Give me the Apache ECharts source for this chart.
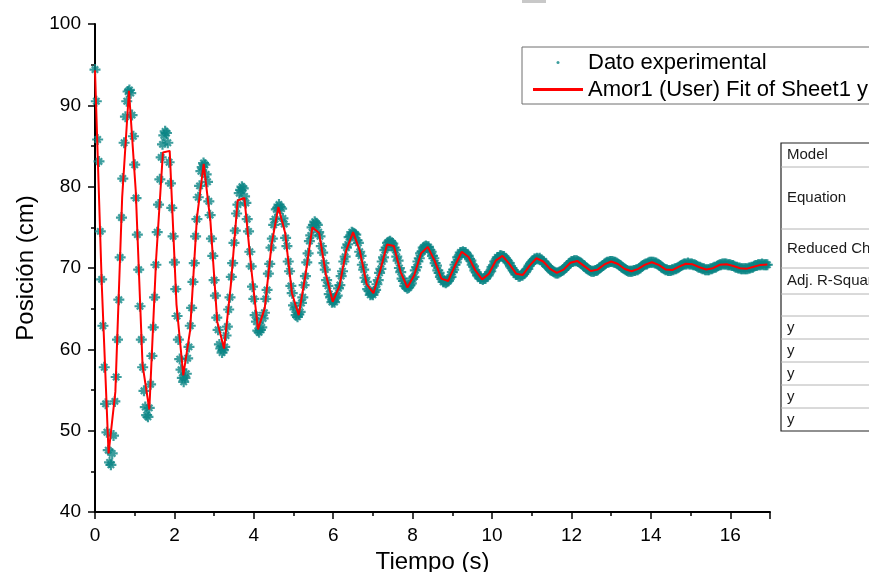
<!DOCTYPE html>
<html><head><meta charset="utf-8">
<script src="https://cdn.jsdelivr.net/npm/echarts@6/dist/echarts.min.js"></script>
<style>html,body{margin:0;padding:0;background:#fff;overflow:hidden}#c{width:869px;height:572px}</style>
</head><body><div id="c"></div>
<script>
// ---- data ----
const seriesNames = ['Dato experimental', 'Amor1 (User) Fit of Sheet1 y'];
const xTitle = 'Tiempo (s)';
const yTitle = 'Posición (cm)';
const xRange = [0, 17];
const yRange = [40, 100];
const xTickStep = 2;
const yTickStep = 10;
const sampleStep = 1 / 30;          // experimental sampling interval (s)
const expPos = [
94.4,90.5,85.8,83.1,74.5,68.6,62.9,57.8,53.3,49.8,47.6,46.1,45.8,
47.2,49.4,53.6,56.6,61.2,66.1,71.3,76.2,81.0,85.4,88.6,90.5,91.7,91.9,
91.5,88.8,86.2,82.7,78.6,74.1,69.8,65.3,61.2,57.8,54.9,52.9,51.9,51.7,
52.8,55.7,59.2,62.7,66.4,70.4,74.4,77.8,80.9,83.6,85.2,86.3,86.8,
86.6,85.4,83.0,80.4,77.4,73.9,70.7,67.4,64.1,61.2,58.8,57.5,56.5,56.0,
56.5,57.0,58.9,60.3,62.9,65.1,68.3,70.6,73.9,76.0,78.7,80.1,81.9,82.4,82.9,
82.7,81.5,80.6,78.2,76.5,73.6,71.5,68.5,66.6,63.9,62.4,60.6,60.1,59.6,
59.9,60.3,61.7,62.8,64.9,66.4,68.9,70.6,73.1,74.6,76.7,77.8,79.2,79.6,80.0,
79.8,78.8,78.0,76.0,74.5,72.0,70.2,67.7,66.2,64.2,63.4,62.3,62.1,
62.4,62.7,63.8,64.5,66.2,67.3,69.3,70.5,72.5,73.6,75.3,76.0,77.2,77.4,77.8,
77.5,77.3,76.1,75.4,73.7,72.7,70.8,69.6,67.8,66.9,65.4,64.9,64.2,64.0,
64.3,64.6,65.7,66.4,67.9,69.0,70.7,71.8,73.3,74.0,75.0,75.3,75.7,
75.5,75.3,74.4,73.9,72.7,71.9,70.6,69.8,68.5,67.8,66.8,66.4,65.8,65.9,
65.8,66.4,66.6,67.5,67.9,69.0,69.6,70.8,71.4,72.5,72.9,73.8,73.9,74.4,74.3,
74.2,74.1,73.4,73.1,72.0,71.5,70.4,69.8,68.8,68.3,67.4,67.2,66.7,66.8,
66.7,67.1,67.3,68.0,68.5,69.4,69.9,70.8,71.3,72.2,72.5,73.1,73.2,73.3,
73.1,73.0,72.5,72.2,71.4,70.9,70.0,69.5,68.7,68.4,67.8,67.7,67.5,
67.6,67.9,68.1,68.7,68.9,69.7,70.1,70.8,71.2,71.8,72.0,72.5,72.6,72.7,
72.6,72.6,72.2,72.0,71.5,71.2,70.6,70.3,69.7,69.4,68.9,68.7,68.3,68.3,68.2,
68.3,68.4,68.8,68.9,69.5,69.8,70.4,70.7,71.3,71.4,71.9,71.9,72.0,
71.9,71.9,71.6,71.5,71.1,70.9,70.4,70.2,69.7,69.5,69.1,69.0,68.7,68.7,68.6,
68.7,68.7,69.0,69.1,69.5,69.6,70.1,70.3,70.8,70.9,71.3,71.3,71.5,71.5,
71.4,71.4,71.2,71.0,70.7,70.6,70.2,70.0,69.7,69.5,69.2,69.2,69.0,69.0,
69.1,69.1,69.3,69.5,69.8,69.9,70.3,70.5,70.7,70.9,71.1,71.1,71.2,
71.1,71.2,71.0,70.8,70.8,70.5,70.4,70.2,70.0,69.8,69.7,69.6,69.5,69.4,69.4,
69.4,69.5,69.6,69.7,69.8,70.0,70.1,70.3,70.5,70.6,70.8,70.8,70.9,70.9,
70.9,70.8,70.7,70.6,70.5,70.3,70.2,70.0,69.9,69.8,69.7,69.6,69.6,
69.6,69.7,69.7,69.8,70.0,70.1,70.2,70.3,70.5,70.6,70.7,70.7,70.8,70.8,
70.8,70.7,70.7,70.6,70.5,70.4,70.3,70.1,70.0,69.9,69.8,69.7,69.6,69.6,69.6,
69.6,69.7,69.7,69.8,69.8,69.9,70.0,70.2,70.3,70.4,70.5,70.5,70.6,70.7,70.7,70.7,
70.7,70.6,70.6,70.5,70.4,70.3,70.1,70.0,69.9,69.8,69.8,69.7,69.7,
69.7,69.8,69.8,69.9,69.9,70.0,70.1,70.2,70.3,70.4,70.5,70.5,70.5,70.6,
70.5,70.5,70.5,70.4,70.4,70.3,70.2,70.1,70.1,70.0,69.9,69.9,69.8,69.8,69.8,
69.8,69.9,69.9,70.0,70.1,70.1,70.2,70.3,70.4,70.4,70.5,70.5,
70.5,70.5,70.4,70.4,70.4,70.3,70.3,70.2,70.1,70.1,70.0,70.0,69.9,69.9,69.9,69.9,
69.9,69.9,70.0,70.0,70.1,70.1,70.2,70.3,70.3,70.4,70.4,70.4,70.5,70.4,70.4,70.4,70.4
];
const fitCount = 100;               // fit curve evaluated at 100 uniform points
const fitPos = [
94.3,67.9,47.2,54.8,78.7,91.8,79.5,58.1,52.6,71.1,
84.2,84.4,65.5,56.8,62.3,76.1,82.8,75.7,63.4,60.1,
67.9,78.3,78.6,70.0,62.45,65.1,72.9,77.5,74.3,66.9,
64.2,69.2,75.0,74.3,69.2,65.85,67.8,72.2,74.4,72.1,
68.0,66.9,69.7,72.9,72.7,69.5,67.6,69.1,71.8,72.6,
70.9,68.7,68.4,70.3,72.0,71.35,69.7,68.6,69.3,70.9,
71.5,70.5,69.3,69.15,70.3,71.2,70.8,69.9,69.4,69.8,
70.65,70.87,70.26,69.64,69.8,70.44,70.8,70.49,69.88,69.6,
69.89,70.42,70.7,70.39,69.83,69.75,70.16,70.52,70.45,70.09,
69.81,69.98,70.4,70.47,70.24,69.97,69.92,70.15,70.38,70.42
];
const tableRows = ['Model', 'Equation', 'Reduced Chi-Sqr', 'Adj. R-Square', '', 'y', 'y', 'y', 'y', 'y'];

// ---- build ----
const expData = expPos.map((v, i) => [i * sampleStep, v]);
const tEnd = (expPos.length - 1) * sampleStep;
const fitData = fitPos.map((v, k) => [k * tEnd / (fitCount - 1), v]);

const FONT = 'Liberation Sans, Arial, sans-serif';
const star = 'path://M4,0H6V4H10V6H6V10H4V6H0V4H4Z M1.4,2.8L2.8,1.4L8.6,7.2L7.2,8.6Z M7.2,1.4L8.6,2.8L2.8,8.6L1.4,7.2Z';

// table geometry (graphic, outside plot)
const rowLines = [143, 167, 229, 268, 294, 316, 339, 362, 385, 408, 431];
const tableEls = [];
tableEls.push({type:'rect', shape:{x:781, y:143, width:120, height:288}, style:{fill:'#fff', stroke:'#222', lineWidth:1.2}, z:10});
for (let r = 1; r < rowLines.length - 1; r++) {
  tableEls.push({type:'line', shape:{x1:781, y1:rowLines[r], x2:880, y2:rowLines[r]}, style:{stroke:'#b4b4b4', lineWidth:1}, z:11});
}
tableRows.forEach((t, r) => {
  if (!t) return;
  tableEls.push({type:'text', x:787, y:(rowLines[r] + rowLines[r+1]) / 2,
    style:{text:t, font:'15px ' + FONT, fill:'#1a1a1a', textVerticalAlign:'middle'}, z:12});
});
tableEls.push({type:'rect', shape:{x:522, y:0, width:24, height:3}, style:{fill:'#c8c8c8'}, z:10});

const chart = echarts.init(document.getElementById('c'), null, {renderer:'canvas'});
chart.setOption({
  animation:false,
  backgroundColor:'#fff',
  grid:{left:95, right:99, top:24, bottom:60, containLabel:false, outerBoundsMode:'none'},
  legend:{
    orient:'vertical', left:522, top:47, padding:[3, 30, 2, 11],
    itemWidth:50, itemHeight:3, itemGap:2,
    borderColor:'#6e6e6e', borderWidth:1, backgroundColor:'#fff',
    textStyle:{fontFamily:FONT, fontSize:22, color:'#000', lineHeight:25},
    data:[{name:seriesNames[0], icon:'circle'}, {name:seriesNames[1], icon:'rect'}]
  },
  xAxis:{
    type:'value', min:xRange[0], max:xRange[1], interval:xTickStep,
    name:xTitle, nameLocation:'middle', nameGap:36,
    nameTextStyle:{fontFamily:FONT, fontSize:24, color:'#000'},
    axisLine:{show:true, onZero:false, lineStyle:{color:'#000', width:2}},
    axisTick:{show:true, inside:false, length:7, lineStyle:{color:'#000', width:1.5}},
    minorTick:{show:true, splitNumber:2, length:4, lineStyle:{color:'#000', width:1.5}},
    axisLabel:{fontFamily:FONT, fontSize:19, color:'#000', margin:14, showMaxLabel:false},
    splitLine:{show:false}
  },
  yAxis:{
    type:'value', min:yRange[0], max:yRange[1], interval:yTickStep,
    name:yTitle, nameLocation:'middle', nameGap:49,
    nameTextStyle:{fontFamily:FONT, fontSize:24, color:'#000'},
    axisLine:{show:true, onZero:false, lineStyle:{color:'#000', width:2}},
    axisTick:{show:true, inside:false, length:7, lineStyle:{color:'#000', width:1.5}},
    minorTick:{show:true, splitNumber:2, length:4, lineStyle:{color:'#000', width:1.5}},
    axisLabel:{fontFamily:FONT, fontSize:19, color:'#000', margin:14},
    splitLine:{show:false}
  },
  series:[
    {name:seriesNames[0], type:'scatter', data:expData, symbol:star, symbolSize:11,
     itemStyle:{color:'#0a8585'}, z:2, large:false},
    {name:seriesNames[1], type:'line', data:fitData, showSymbol:false, symbol:'none',
     lineStyle:{color:'#ff0000', width:2}, itemStyle:{color:'#ff0000'}, z:3}
  ],
  graphic:tableEls
});
</script>
</body></html>
